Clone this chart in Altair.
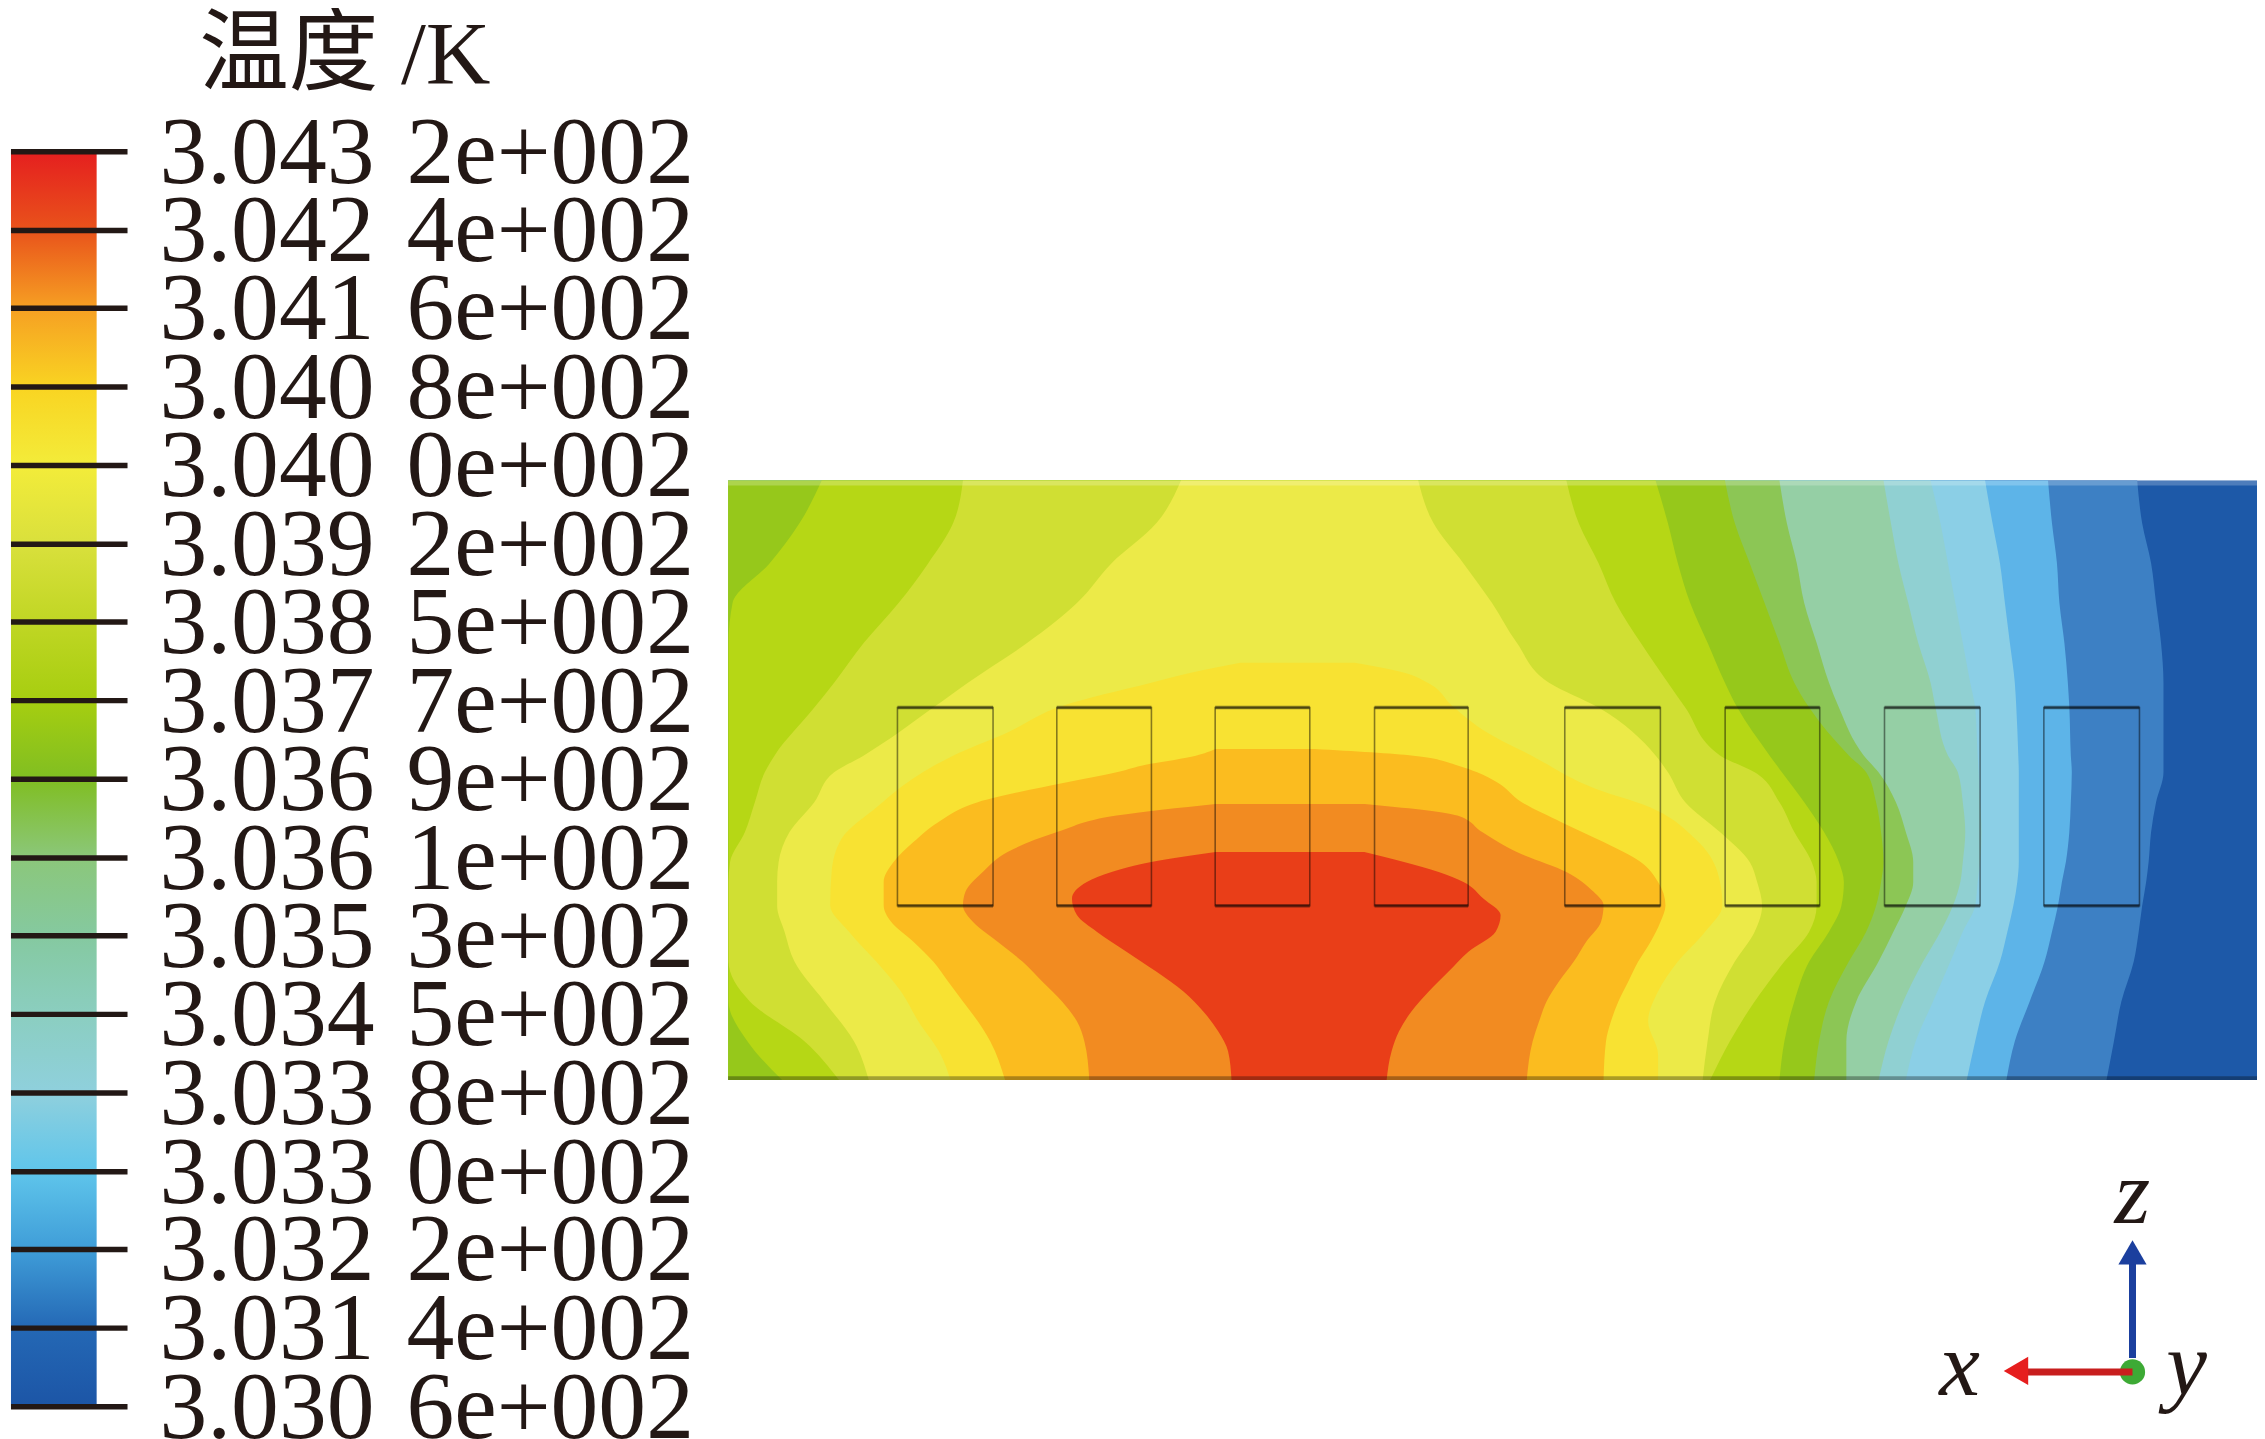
import altair as alt
import pandas as pd

# ---- reference scale: every position below is in reference pixels ----
W, H = 2253, 1430
X_DOM = [8, 8 + W]
Y_DOM = [17.5 + H, 17.5]

TICK_LABELS = ["3.043\u20042e+002", "3.042\u20044e+002", "3.041\u20046e+002", "3.040\u20048e+002",
               "3.040\u20040e+002", "3.039\u20042e+002", "3.038\u20045e+002", "3.037\u20047e+002",
               "3.036\u20049e+002", "3.036\u20041e+002", "3.035\u20043e+002", "3.034\u20045e+002",
               "3.033\u20048e+002", "3.033\u20040e+002", "3.032\u20042e+002", "3.031\u20044e+002",
               "3.030\u20046e+002"]
TICK_Y = [147, 226, 304, 383, 462, 541, 619, 698, 777, 856, 934, 1013, 1092, 1171, 1249, 1328, 1407]
BAR_STOPS = ["#E51F1F", "#E9531B", "#F6A023", "#F9D422", "#F3EC3A", "#D9E03C", "#C0D624", "#A6CE10",
             "#80BE22", "#8BC77A", "#85C9A0", "#8BCEC0", "#8FD0DD", "#5FC5EB", "#3F9DD8", "#2468B5", "#1C55A6"]

FIELD_L, FIELD_R, FIELD_T, FIELD_B = 728, 2263, 477, 1079

def xa(vs): return [720 + v / 2.01 for v in vs]
def xb(vs): return [1490 + v / 2.01 for v in vs]
def ya(vs): return [770 + v / 3 for v in vs]

ROWS = [477, 520, 560, 600, 640, 680, 705, 753, 770, 800, 830, 860, 880, 904, 930, 960, 1000, 1040, 1079]

EDGE = [FIELD_L] * len(ROWS)
R14 = [1312,1322,1340,1350,1360,1365,1365,1365,1365,1350,1340,1335,1330,1322,1315,1305,1280,1265,1250]
R13 = [1132,1140,1150,1155,1165,1172,1175,1178,1180,1178,1175,1168,1160,1152,1140,1125,1095,1065,1048]
R12 = [1005,1020,1035,1045,1055,1065,1068,1072,1073,1073,1073,1073,1070,1062,1050,1035,1005,985,968]
R11 = [895,915,930,945,960,975,985,990,992,995,998,995,990,985,960,935,900,865,845]
R10 = [800,815,830,850,870,895,905,930,950,960,965,960,955,940,915,880,840,810,790]
R9 = [590,605,625,640,665,690,710,760,790,825,845,860,860,845,820,790,745,725,725]
R8 = [480,500,530,560,590,620,650,730,765,785,795,800,795,785,765,730,690,670,660]
R7 = [340,365,385,410,445,480,505,570,595,640,680,710,720,715,690,650,620,600,590]
L7 = [205,160,100,25,17,17,17,17,17,17,17,17,17,17,17,17,17,55,125]
R6 = [160,185,225,260,310,365,400,470,540,590,620,655,665,665,650,600,540,490,450]
L6 = [490,470,420,360,290,230,190,110,90,70,50,20,17,17,17,17,60,170,240]
R5 = [-139,-108,-48,10,60,125,225,340,365,400,470,530,545,555,540,500,460,445,435]
L5 = [930,880,790,720,620,500,430,290,230,190,140,118,115,115,130,150,210,270,300]

Z4 = [-330,-300,-270,-200,-120,-50,50,100,200,300,400,480,570,660,750,850,927]
L4 = [1050,950,870,690,580,470,360,320,245,225,222,260,315,365,400,445,465]
R4 = [-267,-167,-120,-70,0,90,220,320,420,465,475,440,385,345,325,345,345]
Z3 = [-70,-50,-20,0,30,90,150,210,270,330,400,450,510,570,630,690,750,810,927]
L3 = [1000,960,850,800,700,520,440,390,350,330,330,345,390,430,460,490,520,545,575]
R3 = [-348,-149,-58,-20,20,70,150,235,310,345,360,350,330,305,285,265,250,240,235]
Z2 = [95,130,180,240,300,360,400,450,510,570,630,690,750,810,927]
L2 = [1000,800,680,580,530,495,490,510,560,610,650,690,720,735,745]
R2 = [-247,-60,-10,60,160,215,235,230,200,175,145,120,105,92,80]
Z1 = [240,270,300,330,380,430,480,540,600,660,720,780,840,927]
L1 = [1000,870,790,740,710,720,760,820,880,935,975,1005,1025,1032]
R1 = [1300,1380,1450,1500,1540,1575,1565,1510,1470,1430,1395,1370,1355,1345]

BANDS = [
    ("#1D59A8", [FIELD_T, FIELD_B], [FIELD_L, FIELD_L], [FIELD_R, FIELD_R]),
    ("#3D80C4", ROWS, EDGE, xb(R14)),
    ("#5DB4E8", ROWS, EDGE, xb(R13)),
    ("#8BCFE6", ROWS, EDGE, xb(R12)),
    ("#90D0D2", ROWS, EDGE, xb(R11)),
    ("#95CFA5", ROWS, EDGE, xb(R10)),
    ("#8CC655", ROWS, EDGE, xb(R9)),
    ("#96C81B", ROWS, EDGE, xb(R8)),
    ("#B6D715", ROWS, xa(L7), xb(R7)),
    ("#D0DF33", ROWS, xa(L6), xb(R6)),
    ("#ECEA48", ROWS, xa(L5), xb(R5)),
    ("#F8E232", ya(Z4), xa(L4), xb(R4)),
    ("#FBBC1F", ya(Z3), xa(L3), xb(R3)),
    ("#F28B21", ya(Z2), xa(L2), xb(R2)),
    ("#E93E18", ya(Z1), xa(L1), xa(R1)),
]

COIL_L = [898, 1058, 1217, 1377, 1568, 1729, 1889, 2049]
COIL_R = [994, 1153, 1312, 1471, 1664, 1824, 1985, 2145]
COIL_T, COIL_B = 705, 904

sx = alt.Scale(domain=X_DOM, nice=False, zero=False)
sy = alt.Scale(domain=Y_DOM, nice=False, zero=False)
X = lambda f: alt.X(f, type="quantitative", scale=sx, axis=None)
Y = lambda f: alt.Y(f, type="quantitative", scale=sy, axis=None)

layers = []

# contour bands
for colour, ys, ls, rs in BANDS:
    df = pd.DataFrame({"y": ys, "l": ls, "r": rs})
    layers.append(alt.Chart(df).mark_area(orient="horizontal", color=colour, interpolate="monotone")
                  .encode(y=Y("y"), x=X("l"), x2="r"))

# top highlight / bottom dark edge of the field
edge = pd.DataFrame({"x": [FIELD_L], "x2": [FIELD_R], "t": [FIELD_T], "b": [FIELD_T + 5]})
layers.append(alt.Chart(edge).mark_rect(color="white", opacity=0.22).encode(x=X("x"), x2="x2", y=Y("t"), y2="b"))
edge2 = pd.DataFrame({"x": [FIELD_L], "x2": [FIELD_R], "t": [FIELD_B - 4], "b": [FIELD_B]})
layers.append(alt.Chart(edge2).mark_rect(color="#B0B0B0", blend="multiply").encode(x=X("x"), x2="x2", y=Y("t"), y2="b"))

# coil outlines
coils = pd.DataFrame({"l": COIL_L, "r": COIL_R, "t": [COIL_T] * 8, "b": [COIL_B] * 8})
layers.append(alt.Chart(coils).mark_rect(fill=None, stroke="#8A8A8A", strokeWidth=1.6, blend="multiply")
              .encode(x=X("l"), x2="r", y=Y("t"), y2="b"))
for yv in (COIL_T, COIL_B):
    d = coils.assign(t=yv)
    layers.append(alt.Chart(d).mark_rule(stroke="#909090", strokeWidth=3.5, blend="multiply")
                  .encode(x=X("l"), x2="r", y=Y("t")))

# colour bar
bar = pd.DataFrame({"l": [8], "r": [94], "t": [TICK_Y[0]], "b": [TICK_Y[-1]]})
grad = alt.LinearGradient(gradient="linear", x1=0, x2=0, y1=0, y2=1,
                          stops=[alt.GradientStop(color=c, offset=i / (len(BAR_STOPS) - 1))
                                 for i, c in enumerate(BAR_STOPS)])
layers.append(alt.Chart(bar).mark_rect(fill=grad).encode(x=X("l"), x2="r", y=Y("t"), y2="b"))
ticks = pd.DataFrame({"y": TICK_Y, "l": [8] * 17, "r": [125] * 17, "t": TICK_LABELS,
                      "ty": [v + 31 for v in TICK_Y], "tx": [157] * 17})
layers.append(alt.Chart(ticks).mark_rule(color="#231815", strokeWidth=5.5).encode(x=X("l"), x2="r", y=Y("y")))
layers.append(alt.Chart(ticks).mark_text(font="Liberation Serif", fontSize=96, align="left",
                                         baseline="alphabetic", color="#231815")
              .encode(x=X("tx"), y=Y("ty"), text="t:N"))

# legend title
title = pd.DataFrame({"x": [197], "y": [78], "t": ["温度 /K"]})
layers.append(alt.Chart(title).mark_text(font="Liberation Serif, Noto Sans CJK SC", fontSize=90, align="left",
                                         baseline="alphabetic", color="#231815")
              .encode(x=X("x"), y=Y("y"), text="t:N"))

# triad
shaft_z = pd.DataFrame({"x": [2138], "y": [1358], "y2": [1262]})
shaft_x = pd.DataFrame({"x": [2138], "x2": [2031], "y": [1372]})
layers.append(alt.Chart(pd.DataFrame({"x": [2138], "y": [1372]}))
              .mark_point(shape="circle", filled=True, size=640, color="#3DAA35", opacity=1)
              .encode(x=X("x"), y=Y("y")))
layers.append(alt.Chart(shaft_x).mark_rule(color="#C81E1E", strokeWidth=7).encode(x=X("x"), x2="x2", y=Y("y")))
layers.append(alt.Chart(shaft_z).mark_rule(color="#1B3F9E", strokeWidth=7).encode(x=X("x"), y=Y("y"), y2="y2"))
layers.append(alt.Chart(pd.DataFrame({"x": [2138], "y": [1252]}))
              .mark_point(shape="triangle-up", filled=True, size=800, color="#1B3F9E", opacity=1)
              .encode(x=X("x"), y=Y("y")))
layers.append(alt.Chart(pd.DataFrame({"x": [2021], "y": [1371]}))
              .mark_point(shape="triangle-left", filled=True, size=800, color="#E61E1E", opacity=1)
              .encode(x=X("x"), y=Y("y")))
axes = pd.DataFrame({"x": [1944, 2172, 2120], "y": [1395, 1395, 1222], "t": ["x", "y", "z"]})
layers.append(alt.Chart(axes).mark_text(font="Liberation Serif", fontStyle="italic", fontSize=92, align="left",
                                        baseline="alphabetic", color="#231815")
              .encode(x=X("x"), y=Y("y"), text="t:N"))

chart = (alt.layer(*layers)
         .properties(width=W, height=H, padding=0, background="white")
         .configure_view(stroke=None))
chart.save("out.html", embed_options={"renderer": "svg", "actions": False})
